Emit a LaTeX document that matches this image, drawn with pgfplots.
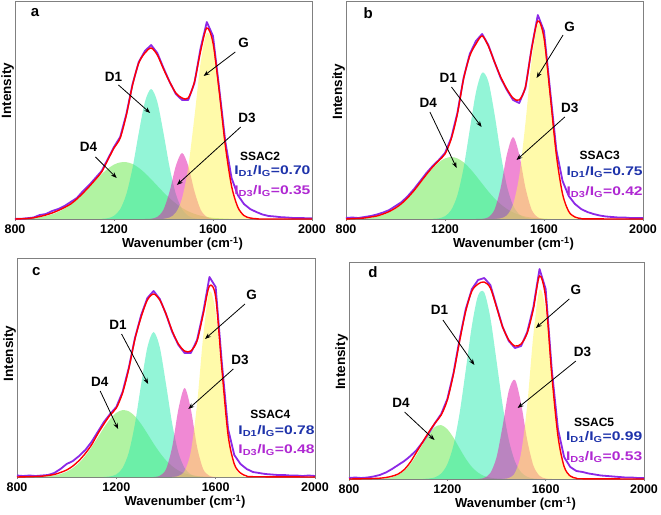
\documentclass[border=0pt]{standalone}
\usepackage{fontspec}
\setmainfont{Liberation Sans}
\newfontfamily\ratiofont{Liberation Sans}[FakeStretch=1.25]
\usepackage{pgfplots}
\pgfplotsset{compat=1.18}
\usetikzlibrary{arrows.meta}
\definecolor{cD4}{RGB}{100,232,70}
\definecolor{cD1}{RGB}{40,235,175}
\definecolor{cD3}{RGB}{225,20,170}
\definecolor{cG}{RGB}{255,245,85}
\definecolor{cfit}{RGB}{255,0,0}
\definecolor{cdata}{RGB}{140,40,230}
\definecolor{cblue}{RGB}{30,50,170}
\definecolor{cpurp}{RGB}{175,40,210}
\pgfplotsset{
  raman/.style={
    scale only axis, clip=false,
    xmin=800, xmax=2000, ymin=0,
    xtick={800,1200,1600,2000}, xticklabels={800,1200,1600,2000},
    ytick=\empty,
    axis line style={draw=gray, line width=0.8pt},
    tick style={draw=gray, line width=0.6pt},
    tick align=outside, major tick length=2pt,
    xtick pos=bottom,
    xticklabel style={font=\bfseries\fontsize{12.5}{13}\selectfont},
    xlabel={Wavenumber (cm\textsuperscript{-1})},
    xlabel style={font=\bfseries\fontsize{13}{14}\selectfont, yshift=3pt, xshift=19pt},
    ylabel={Intensity},
    ylabel style={font=\bfseries\fontsize{13.5}{14}\selectfont, anchor=south, inner sep=0.8pt},
  },
  fD4/.style={draw=none, fill=cD4, fill opacity=0.5, smooth},
  fD1/.style={draw=none, fill=cD1, fill opacity=0.5, smooth},
  fD3/.style={draw=none, fill=cD3, fill opacity=0.5, smooth},
  fG/.style={draw=none, fill=cG, fill opacity=0.5, smooth},
  pdata/.style={cdata, line width=1.8pt, line join=round, no marks},
  pfit/.style={cfit, line width=1.4pt, smooth, no marks},
}
\tikzset{
  lab/.style={font=\bfseries\fontsize{13.5}{14}\selectfont, inner sep=0pt},
  plet/.style={font=\bfseries\fontsize{15}{15}\selectfont, inner sep=0pt},
  arr/.style={-{Stealth[length=6pt,width=4.5pt]}, line width=0.8pt, black},
  samp/.style={font=\bfseries\fontsize{12}{12}\selectfont, inner sep=0pt},
  rat/.style={font=\ratiofont\bfseries\fontsize{12.5}{13}\selectfont, inner sep=0pt},
}
\begin{document}
\begin{tikzpicture}
\useasboundingbox (0,0) rectangle (661pt,514pt);
% ---------------- panel a ----------------
\begin{axis}[raman, at={(15pt,295pt)}, anchor=south west, width=297pt, height=218pt, ymax=218,
  ylabel style={at={(axis description cs:0,0.589)}}]
\addplot[fD4] coordinates {(825,0.3)(850,0.6)(875,1.1)(900,1.9)(925,3.0)(950,4.7)(975,7.1)(1000,10.4)(1025,14.5)(1050,19.6)(1075,25.5)(1100,31.9)(1125,38.5)(1150,44.8)(1175,50.3)(1200,54.4)(1225,56.6)(1250,56.8)(1275,55.0)(1300,51.2)(1325,46.0)(1350,39.8)(1375,33.2)(1400,26.7)(1425,20.7)(1450,15.5)(1475,11.1)(1500,7.7)(1525,5.2)(1550,3.3)(1575,2.1)(1600,1.2)(1625,0.7)(1650,0.4)(1675,0.1)} \closedcycle;
\addplot[fD1] coordinates {(1150,0.2)(1175,0.8)(1200,3.2)(1225,9.8)(1250,24.9)(1275,51.3)(1300,86.0)(1325,117.2)(1350,130)(1375,117.2)(1400,86.0)(1425,51.3)(1450,24.9)(1475,9.8)(1500,3.2)(1525,0.8)(1550,0.2)} \closedcycle;
\addplot[fD3] coordinates {(1325,0.1)(1350,0.3)(1375,2.1)(1400,9.4)(1425,27.8)(1450,53.2)(1475,66)(1500,53.2)(1525,27.8)(1550,9.4)(1575,2.1)(1600,0.3)(1625,0.1)} \closedcycle;
\addplot[fG] coordinates {(1400,0.3)(1425,1.5)(1450,6.4)(1475,20.6)(1500,52.0)(1525,102.1)(1550,156.2)(1575,186.1)(1600,172.6)(1625,124.7)(1650,70.2)(1675,30.8)(1700,10.5)(1725,2.8)(1750,0.6)(1775,0.1)} \closedcycle;
\addplot[pdata] coordinates {(800,0.3)(825,0.2)(850,0.8)(875,1.5)(900,4)(925,5)(950,8)(975,10)(1000,13)(1025,17)(1050,21)(1075,28)(1100,34)(1125,41)(1150,48)(1175,60)(1200,72)(1225,82)(1250,105)(1275,135)(1300,157)(1325,168)(1350,174)(1375,166)(1400,151)(1425,137)(1450,125)(1475,119)(1500,119)(1525,136)(1550,171)(1575,197)(1600,183)(1625,131)(1650,77)(1675,41)(1700,24)(1725,15)(1750,10)(1775,7)(1800,4.5)(1825,3)(1850,2.5)(1875,1.8)(1900,1.5)(1925,1)(1950,1)(1975,0.8)(2000,0.8)};
\addplot[pfit] coordinates {(800,0)(825,0.2)(850,0.5)(875,1.2)(900,2.5)(925,4)(950,6)(975,8.5)(1000,11.5)(1025,15)(1050,20)(1075,26)(1100,32.5)(1125,39.5)(1150,47)(1175,59)(1200,71)(1225,81)(1250,104)(1275,134)(1300,156)(1325,166)(1350,171)(1375,164)(1400,150)(1425,137)(1450,126)(1475,121)(1500,121)(1525,137)(1550,168)(1575,191)(1600,176)(1625,128)(1650,73)(1675,33)(1700,12)(1725,3.5)(1750,1)(1775,0.3)(1800,0)(2000,0)};
\node[plet] at (axis cs:881,206) {a};
\node[lab] at (axis cs:1724,176) {G};
\draw[arr] (axis cs:1690,167) -- (axis cs:1562,143);
\node[lab] at (axis cs:1198,142) {D1};
\draw[arr] (axis cs:1218,134) -- (axis cs:1346,106);
\node[lab] at (axis cs:1737,101) {D3};
\draw[arr] (axis cs:1712,92) -- (axis cs:1454,34);
\node[lab] at (axis cs:1097,72) {D4};
\draw[arr] (axis cs:1125,62) -- (axis cs:1211,41);
\node[samp] at (axis cs:1790,63) {SSAC2};
\node[rat, text=cblue] at (axis cs:1840,48) {I\textsubscript{D1}/I\textsubscript{G}=0.70};
\node[rat, text=cpurp] at (axis cs:1840,28) {I\textsubscript{D3}/I\textsubscript{G}=0.35};
\end{axis}
% ---------------- panel b ----------------
\begin{axis}[raman, at={(346pt,295pt)}, anchor=south west, width=297pt, height=218pt, ymax=218,
  ylabel style={at={(axis description cs:0,0.583)}}]
\addplot[fD4] coordinates {(825,0.1)(850,0.4)(875,0.8)(900,1.4)(925,2.4)(950,4.1)(975,6.6)(1000,10.1)(1025,14.7)(1050,20.6)(1075,27.6)(1100,35.4)(1125,43.3)(1150,50.7)(1175,56.7)(1200,60.6)(1225,62)(1250,60.6)(1275,56.7)(1300,50.7)(1325,43.3)(1350,35.4)(1375,27.6)(1400,20.6)(1425,14.7)(1450,10.1)(1475,6.6)(1500,4.1)(1525,2.4)(1550,1.4)(1575,0.8)(1600,0.4)(1625,0.1)} \closedcycle;
\addplot[fD1] coordinates {(1150,0.2)(1175,0.7)(1200,2.8)(1225,9.0)(1250,23.8)(1275,51.0)(1300,89.2)(1325,126.7)(1350,146.4)(1375,137.6)(1400,105.2)(1425,65.4)(1450,33.1)(1475,13.6)(1500,4.6)(1525,1.2)(1550,0.2)} \closedcycle;
\addplot[fD3] coordinates {(1325,0.1)(1350,0.2)(1375,1.7)(1400,9.4)(1425,31.3)(1450,64.4)(1475,82)(1500,64.4)(1525,31.3)(1550,9.4)(1575,1.7)(1600,0.2)} \closedcycle;
\addplot[fG] coordinates {(1400,0.1)(1425,0.7)(1450,3.6)(1475,14.5)(1500,43.2)(1525,95.9)(1550,158.4)(1575,194.8)(1600,178.3)(1625,121.5)(1650,61.6)(1675,23.2)(1700,6.5)(1725,1.4)(1750,0.2)} \closedcycle;
\addplot[pdata] coordinates {(800,1)(825,1.5)(850,1)(875,2)(900,3)(925,4.5)(950,6.5)(975,9)(1000,13)(1025,17)(1050,23)(1075,30)(1100,38)(1125,46)(1150,53)(1175,59)(1200,66)(1225,81)(1250,106)(1275,141)(1300,165)(1325,178)(1350,185)(1375,174)(1400,157)(1425,141)(1450,129)(1475,119)(1500,116)(1525,131)(1550,171)(1575,204)(1600,188)(1625,128)(1650,69)(1675,38)(1700,23)(1725,15)(1750,10)(1775,7)(1800,5)(1825,3.5)(1850,2.5)(1875,2)(1900,1.5)(1925,1.5)(1950,1)(1975,1)(2000,1)};
\addplot[pfit] coordinates {(800,0)(825,0.3)(850,0.6)(875,1)(900,2)(925,3)(950,5)(975,7.5)(1000,11)(1025,15.5)(1050,21.5)(1075,28.5)(1100,36.5)(1125,44.5)(1150,52)(1175,58.5)(1200,65)(1225,80)(1250,105)(1275,140)(1300,163)(1325,175)(1350,183)(1375,173)(1400,157)(1425,142)(1450,130)(1475,121)(1500,119)(1525,132)(1550,170)(1575,198)(1600,181)(1625,124)(1650,64)(1675,25)(1700,7.5)(1725,2)(1750,0.5)(1775,0.1)(2000,0)};
\node[plet] at (axis cs:890,206) {b};
\node[lab] at (axis cs:1704,192) {G};
\draw[arr] (axis cs:1677,184) -- (axis cs:1570,141);
\node[lab] at (axis cs:1213,141) {D1};
\draw[arr] (axis cs:1226,132) -- (axis cs:1348,92);
\node[lab] at (axis cs:1704,111) {D3};
\draw[arr] (axis cs:1684,102) -- (axis cs:1489,59);
\node[lab] at (axis cs:1132,116) {D4};
\draw[arr] (axis cs:1139,107) -- (axis cs:1247,51);
\node[samp] at (axis cs:1825,64) {SSAC3};
\node[rat, text=cblue] at (axis cs:1845,47) {I\textsubscript{D1}/I\textsubscript{G}=0.75};
\node[rat, text=cpurp] at (axis cs:1845,27) {I\textsubscript{D3}/I\textsubscript{G}=0.42};
\end{axis}
% ---------------- panel c ----------------
\begin{axis}[raman, at={(17pt,37pt)}, anchor=south west, width=298pt, height=219pt, ymax=219,
  ylabel style={at={(axis description cs:0,0.564)}}]
\addplot[fD4] coordinates {(850,0.1)(875,0.2)(900,0.4)(925,0.8)(950,1.5)(975,2.9)(1000,5.3)(1025,8.9)(1050,14.1)(1075,21.1)(1100,29.7)(1125,39.4)(1150,49.3)(1175,57.9)(1200,64.2)(1225,66.9)(1250,65.7)(1275,60.8)(1300,52.9)(1325,43.4)(1350,33.5)(1375,24.4)(1400,16.7)(1425,10.8)(1450,6.5)(1475,3.7)(1500,2.0)(1525,1.0)(1550,0.5)(1575,0.2)} \closedcycle;
\addplot[fD1] coordinates {(1150,0.1)(1175,0.6)(1200,2.6)(1225,9.0)(1250,24.4)(1275,53.3)(1300,92.9)(1325,129.7)(1350,145)(1375,129.7)(1400,92.9)(1425,53.3)(1450,24.4)(1475,9.0)(1500,2.6)(1525,0.6)(1550,0.1)} \closedcycle;
\addplot[fD3] coordinates {(1350,0.1)(1375,1.2)(1400,7.8)(1425,30.2)(1450,67.9)(1475,89)(1500,67.9)(1525,30.2)(1550,7.8)(1575,1.2)(1600,0.1)} \closedcycle;
\addplot[fG] coordinates {(1425,0.1)(1450,1.0)(1475,6.0)(1500,25.3)(1525,72.7)(1550,141.1)(1575,185.5)(1600,165.0)(1625,99.3)(1650,40.4)(1675,11.1)(1700,2.1)(1725,0.3)} \closedcycle;
\addplot[pdata] coordinates {(800,1.5)(825,1)(850,1.5)(875,1)(900,1.5)(925,2)(950,4)(975,8)(1000,13)(1025,16)(1050,21)(1075,27)(1100,35)(1125,45)(1150,55)(1175,63)(1200,70)(1225,85)(1250,109)(1275,139)(1300,162)(1325,179)(1350,186)(1375,178)(1400,163)(1425,145)(1450,132)(1475,124)(1500,124)(1525,137)(1550,165)(1575,200)(1600,190)(1625,114)(1650,48)(1675,22)(1700,13)(1725,8)(1750,5)(1775,4)(1800,3)(1825,2.5)(1850,2)(1875,2)(1900,1.5)(1925,1.5)(1950,1)(1975,1.5)(2000,1)};
\addplot[pfit] coordinates {(800,0)(850,0.3)(875,0.5)(900,0.8)(925,1.5)(950,2.5)(975,4.5)(1000,7)(1025,11)(1050,16.5)(1075,23.5)(1100,32)(1125,43)(1150,53)(1175,62)(1200,69)(1225,84)(1250,108)(1275,138)(1300,160)(1325,177)(1350,183)(1375,177)(1400,163)(1425,146)(1450,133)(1475,126)(1500,126)(1525,136)(1550,163)(1575,191)(1600,180)(1625,108)(1650,42)(1675,13)(1700,4)(1725,1)(1750,0.3)(2000,0)};
\node[plet] at (axis cs:878,205) {c};
\node[lab] at (axis cs:1745,182) {G};
\draw[arr] (axis cs:1718,173) -- (axis cs:1557,138);
\node[lab] at (axis cs:1207,152) {D1};
\draw[arr] (axis cs:1221,143) -- (axis cs:1328,93);
\node[lab] at (axis cs:1698,117) {D3};
\draw[arr] (axis cs:1671,108) -- (axis cs:1490,68);
\node[lab] at (axis cs:1133,95) {D4};
\draw[arr] (axis cs:1135,86) -- (axis cs:1207,48);
\node[samp] at (axis cs:1820,63) {SSAC4};
\node[rat, text=cblue] at (axis cs:1845,46) {I\textsubscript{D1}/I\textsubscript{G}=0.78};
\node[rat, text=cpurp] at (axis cs:1845,27) {I\textsubscript{D3}/I\textsubscript{G}=0.48};
\end{axis}
% ---------------- panel d ----------------
\begin{axis}[raman, at={(349pt,35pt)}, anchor=south west, width=295pt, height=217pt, ymax=217,
  ylabel style={at={(axis description cs:0,0.539)}}]
\addplot[fD4] coordinates {(900,0.1)(925,0.3)(950,0.7)(975,1.8)(1000,4.1)(1025,8.3)(1050,15.0)(1075,24.2)(1100,34.9)(1125,45.1)(1150,52.1)(1175,53.9)(1200,49.8)(1225,41.3)(1250,30.6)(1275,20.3)(1300,12.0)(1325,6.4)(1350,3.0)(1375,1.3)(1400,0.5)(1425,0.2)} \closedcycle;
\addplot[fD1] coordinates {(1100,0.1)(1125,0.5)(1150,1.7)(1175,5.5)(1200,14.8)(1225,33.8)(1250,65.9)(1275,109.1)(1300,153.5)(1325,183.5)(1350,186.6)(1375,161.2)(1400,118.3)(1425,73.8)(1450,39.2)(1475,17.7)(1500,6.8)(1525,2.2)(1550,0.6)(1575,0.1)} \closedcycle;
\addplot[fD3] coordinates {(1325,0.1)(1350,1.1)(1375,6.0)(1400,21.6)(1425,53.1)(1450,88.3)(1475,99.2)(1500,75.5)(1525,38.9)(1550,13.5)(1575,3.2)(1600,0.5)(1625,0.1)} \closedcycle;
\addplot[fG] coordinates {(1425,0.1)(1450,1.0)(1475,6.1)(1500,25.8)(1525,74.2)(1550,144.2)(1575,189.5)(1600,168.6)(1625,101.4)(1650,41.3)(1675,11.4)(1700,2.1)(1725,0.3)} \closedcycle;
\addplot[pdata] coordinates {(800,1)(825,1.5)(850,1)(875,1.5)(900,2.5)(925,4)(950,6.5)(975,10)(1000,14)(1025,18)(1050,23)(1075,29)(1100,37)(1125,46)(1150,56)(1175,65)(1200,80)(1225,106)(1250,140)(1275,170)(1300,190)(1325,199)(1350,201)(1375,194)(1400,173)(1425,152)(1450,138)(1475,131)(1500,133)(1525,147)(1550,172)(1575,210)(1600,190)(1625,109)(1650,50)(1675,22)(1700,12)(1725,8)(1750,7)(1775,5.5)(1800,4.5)(1825,3.5)(1850,3)(1875,2.5)(1900,2)(1925,1.5)(1950,1.5)(1975,1)(2000,1)};
\addplot[pfit] coordinates {(800,0)(850,0.2)(900,0.5)(925,0.8)(950,1.5)(975,2.8)(1000,5)(1025,9.5)(1050,17)(1075,27)(1100,37)(1125,47)(1150,56)(1175,64)(1200,79)(1225,105)(1250,138)(1275,168)(1300,188)(1325,195)(1350,197)(1375,191)(1400,172)(1425,152)(1450,139)(1475,133)(1500,135)(1525,146)(1550,170)(1575,203)(1600,181)(1625,104)(1650,43)(1675,12.5)(1700,3)(1725,0.8)(1750,0.2)(2000,0)};
\node[plet] at (axis cs:897,207) {d};
\node[lab] at (axis cs:1723,189) {G};
\draw[arr] (axis cs:1696,180) -- (axis cs:1560,151);
\node[lab] at (axis cs:1168,169) {D1};
\draw[arr] (axis cs:1182,159) -- (axis cs:1310,114);
\node[lab] at (axis cs:1750,127) {D3};
\draw[arr] (axis cs:1723,118) -- (axis cs:1486,71);
\node[lab] at (axis cs:1012,76) {D4};
\draw[arr] (axis cs:1026,67) -- (axis cs:1148,39);
\node[samp] at (axis cs:1797,57) {SSAC5};
\node[rat, text=cblue] at (axis cs:1838,42) {I\textsubscript{D1}/I\textsubscript{G}=0.99};
\node[rat, text=cpurp] at (axis cs:1838,22) {I\textsubscript{D3}/I\textsubscript{G}=0.53};
\end{axis}
\end{tikzpicture}
\end{document}
